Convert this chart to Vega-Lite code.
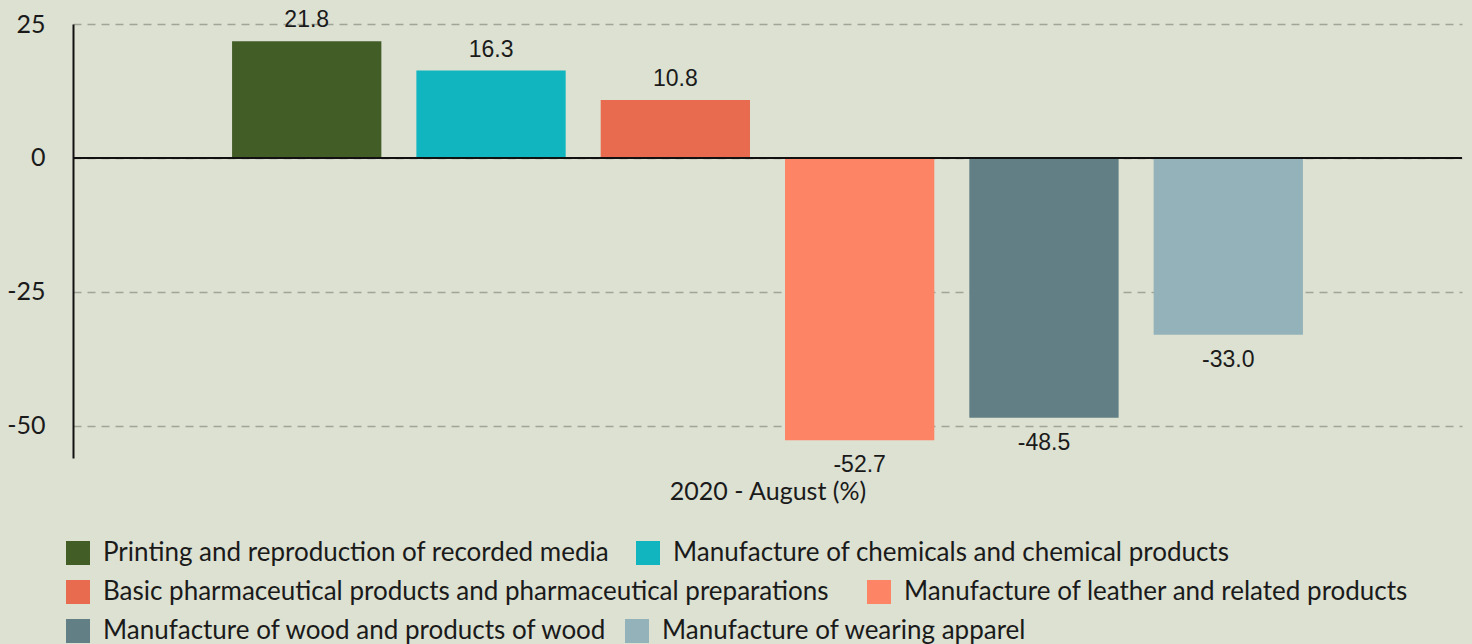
{
  "$schema": "https://vega.github.io/schema/vega-lite/v6.json",
  "width": 1389,
  "height": 434,
  "autosize": {"type": "none"},
  "padding": {"left": 73, "top": 24, "right": 10, "bottom": 186},
  "background": "#dce1d2",
  "config": {
    "view": {"stroke": null},
    "font": "Lato",
    "locale": {"number": {"decimal": ".", "thousands": ",", "grouping": [3], "currency": ["$", ""], "minus": "-"}},
    "legend": {
      "title": null, "orient": "none", "direction": "horizontal",
      "symbolType": "square", "symbolSize": 576, "symbolStrokeWidth": 0, "symbolOpacity": 1,
      "labelFont": "Lato", "labelFontSize": 26, "labelColor": "#1a1a1a", "labelOffset": 12, "labelLimit": 900
    }
  },
  "data": {
    "values": [
      {"period": "2020 - August (%)", "sector": "Printing and reproduction of recorded media", "value": 21.8},
      {"period": "2020 - August (%)", "sector": "Manufacture of chemicals and chemical products", "value": 16.3},
      {"period": "2020 - August (%)", "sector": "Basic pharmaceutical products and pharmaceutical preparations", "value": 10.8},
      {"period": "2020 - August (%)", "sector": "Manufacture of leather and related products", "value": -52.7},
      {"period": "2020 - August (%)", "sector": "Manufacture of wood and products of wood", "value": -48.5},
      {"period": "2020 - August (%)", "sector": "Manufacture of wearing apparel", "value": -33.0}
    ]
  },
  "encoding": {
    "x": {
      "field": "period", "type": "nominal",
      "scale": {"paddingOuter": 0.128, "paddingInner": 0},
      "axis": {"title": "2020 - August (%)", "labels": false, "ticks": false, "domain": false, "titleFont": "Lato", "titleFontSize": 25, "titleFontWeight": "normal", "titleColor": "#1a1a1a", "titlePadding": 21}
    },
    "xOffset": {
      "field": "sector", "type": "nominal",
      "scale": {
        "domain": ["Printing and reproduction of recorded media", "Manufacture of chemicals and chemical products", "Basic pharmaceutical products and pharmaceutical preparations", "Manufacture of leather and related products", "Manufacture of wood and products of wood", "Manufacture of wearing apparel"],
        "paddingInner": 0.19, "paddingOuter": 0.095
      }
    },
    "y": {
      "field": "value", "type": "quantitative",
      "scale": {"domain": [-56, 25], "nice": false, "zero": false},
      "axis": {"title": null, "values": [25, 0, -25, -50], "ticks": false, "domainColor": "#111111", "domainWidth": 2, "grid": true, "gridColor": "#9fa597", "gridDash": [8, 6], "gridWidth": 1.5, "labelFont": "Lato", "labelFontSize": 25, "labelColor": "#1a1a1a", "labelPadding": 28}
    }
  },
  "resolve": {"scale": {"color": "independent"}, "legend": {"color": "independent"}},
  "layer": [
    {
      "transform": [{"filter": "datum.sector === 'Printing and reproduction of recorded media' || datum.sector === 'Manufacture of chemicals and chemical products'"}],
      "mark": {"type": "bar"},
      "encoding": {
        "color": {
          "field": "sector", "type": "nominal",
          "scale": {
            "domain": ["Printing and reproduction of recorded media", "Manufacture of chemicals and chemical products"],
            "range": ["#435d27", "#10b5bf"]
          },
          "legend": {"legendX": -8, "legendY": 516, "columnPadding": 25}
        }
      }
    },
    {
      "transform": [{"filter": "datum.sector === 'Basic pharmaceutical products and pharmaceutical preparations' || datum.sector === 'Manufacture of leather and related products'"}],
      "mark": {"type": "bar"},
      "encoding": {
        "color": {
          "field": "sector", "type": "nominal",
          "scale": {
            "domain": ["Basic pharmaceutical products and pharmaceutical preparations", "Manufacture of leather and related products"],
            "range": ["#e86b4f", "#fd8465"]
          },
          "legend": {"legendX": -8, "legendY": 555, "columnPadding": 37}
        }
      }
    },
    {
      "transform": [{"filter": "datum.sector === 'Manufacture of wood and products of wood' || datum.sector === 'Manufacture of wearing apparel'"}],
      "mark": {"type": "bar"},
      "encoding": {
        "color": {
          "field": "sector", "type": "nominal",
          "scale": {
            "domain": ["Manufacture of wood and products of wood", "Manufacture of wearing apparel"],
            "range": ["#627f85", "#94b2b9"]
          },
          "legend": {"legendX": -8, "legendY": 594, "columnPadding": 16}
        }
      }
    },
    {
      "mark": {"type": "rule", "color": "#111111", "strokeWidth": 2},
      "encoding": {"y": {"datum": 0}, "xOffset": null, "x": null}
    },
    {
      "transform": [{"filter": "datum.value >= 0"}],
      "mark": {"type": "text", "font": "Liberation Sans", "fontSize": 23, "color": "#1a1a1a", "baseline": "middle", "dy": -21},
      "encoding": {
        "text": {"field": "value", "type": "quantitative", "format": ".1f"}
      }
    },
    {
      "transform": [{"filter": "datum.value < 0"}],
      "mark": {"type": "text", "font": "Liberation Sans", "fontSize": 23, "color": "#1a1a1a", "baseline": "middle", "dy": 25},
      "encoding": {
        "text": {"field": "value", "type": "quantitative", "format": ".1f"}
      }
    }
  ]
}
